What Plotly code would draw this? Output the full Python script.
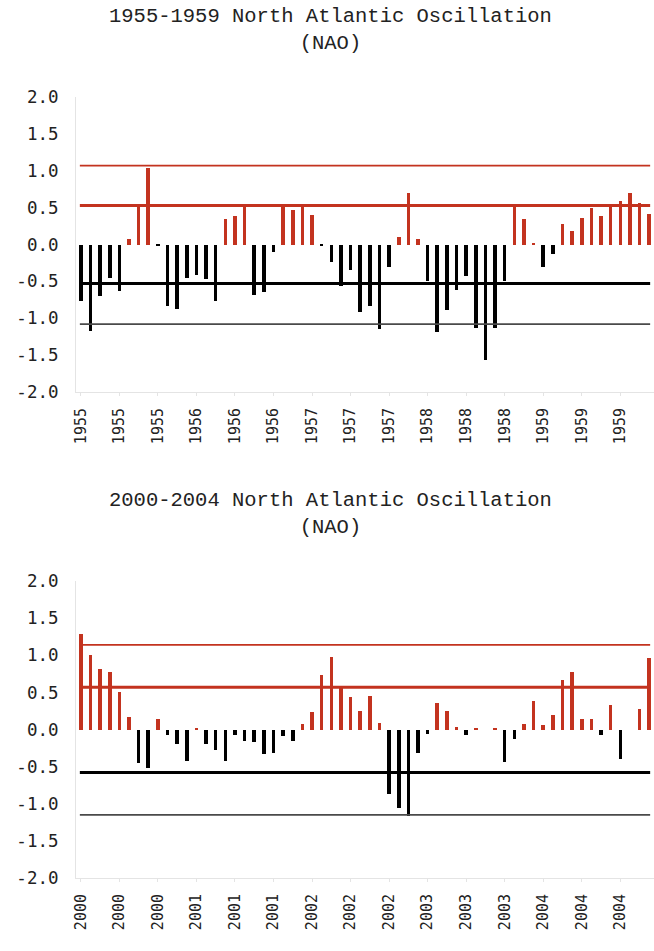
import plotly.graph_objects as go

top_title = "1955-1959 North Atlantic Oscillation<br>(NAO)"
bottom_title = "2000-2004 North Atlantic Oscillation<br>(NAO)"

top_start_year = 1955
bottom_start_year = 2000

top_vals = [-0.77, -1.17, -0.70, -0.45, -0.63, 0.08, 0.55, 1.04, -0.02, -0.83,
            -0.88, -0.46, -0.42, -0.47, -0.76, 0.35, 0.39, 0.52, -0.69, -0.64,
            -0.10, 0.52, 0.47, 0.52, 0.40, -0.02, -0.24, -0.56, -0.35, -0.91,
            -0.83, -1.14, -0.31, 0.10, 0.70, 0.08, -0.50, -1.19, -0.89, -0.62,
            -0.43, -1.13, -1.57, -1.13, -0.50, 0.55, 0.35, 0.01, -0.31, -0.13,
            0.28, 0.18, 0.36, 0.50, 0.38, 0.51, 0.59, 0.70, 0.56, 0.41]

bottom_vals = [1.29, 1.01, 0.81, 0.77, 0.50, 0.17, -0.45, -0.52, 0.14, -0.07,
               -0.20, -0.42, 0.02, -0.19, -0.28, -0.43, -0.07, -0.16, -0.17, -0.33,
               -0.32, -0.09, -0.16, 0.07, 0.23, 0.73, 0.98, 0.56, 0.44, 0.25,
               0.45, 0.09, -0.87, -1.06, -1.16, -0.32, -0.06, 0.36, 0.25, 0.03,
               -0.08, 0.01, 0.0, 0.01, -0.44, -0.13, 0.07, 0.39, 0.06, 0.19,
               0.67, 0.78, 0.14, 0.14, -0.08, 0.33, -0.40, 0.0, 0.27, 0.96]

# reference levels: [upper thin, upper thick, lower thick, lower thin]
top_levels = [1.07, 0.53, -0.53, -1.08]
bottom_levels = [1.14, 0.57, -0.58, -1.15]

y_tick_vals = [2.0, 1.5, 1.0, 0.5, 0.0, -0.5, -1.0, -1.5, -2.0]
y_tick_text = ["2.0", "1.5", "1.0", "0.5", "0.0", "-0.5", "-1.0", "-1.5", "-2.0"]

RED = "#c3331f"
BLACK = "#000000"
THIN_BLACK = "#4a4a4a"
H = 951
W = 654

fig = go.Figure()


def add_panel(vals, levels, start_year, xa, ya):
    n = len(vals)
    xs = list(range(n))
    colors = [RED if v > 0 else BLACK for v in vals]
    fig.add_trace(go.Bar(x=xs, y=vals, marker=dict(color=colors, line=dict(width=0)),
                         width=0.37, xaxis=xa, yaxis=ya, showlegend=False))
    styles = [(RED, 1.6), (RED, 3), (BLACK, 3), (THIN_BLACK, 1.6)]
    for lvl, (c, w) in zip(levels, styles):
        fig.add_trace(go.Scatter(x=[-0.1, n - 0.9], y=[lvl, lvl], mode="lines",
                                 line=dict(color=c, width=w), xaxis=xa, yaxis=ya,
                                 showlegend=False, hoverinfo="skip"))
    tv = list(range(0, n, 4))
    tt = [str(start_year + i // 12) for i in tv]
    return tv, tt


tv1, tt1 = add_panel(top_vals, top_levels, top_start_year, "x", "y")
tv2, tt2 = add_panel(bottom_vals, bottom_levels, bottom_start_year, "x2", "y2")

def px2paper(y):
    return (H - y) / H

axis_font = dict(family="DejaVu Sans Mono", size=17.5, color="#222")
xcommon = dict(range=[-0.5, 59.5], tickangle=-90, showgrid=False, zeroline=False,
               showline=True, linecolor="#e4e4e4", linewidth=1, ticks="outside",
               tickcolor="#e4e4e4", ticklen=3, tickfont=dict(family="DejaVu Sans Mono", size=15, color="#222"),
               ticklabelstandoff=6, automargin=False)
ycommon = dict(range=[-2, 2], tickvals=y_tick_vals, ticktext=y_tick_text, showgrid=False,
               zeroline=False, showline=True, linecolor="#e4e4e4", linewidth=1,
               ticks="", tickfont=axis_font, ticklabelstandoff=13, automargin=False)

fig.update_layout(
    width=W, height=H,
    margin=dict(l=76, r=0, t=0, b=0),
    paper_bgcolor="white", plot_bgcolor="white",
    bargap=0,
    xaxis=dict(domain=[0, 1], anchor="y", tickvals=tv1, ticktext=tt1, **xcommon),
    yaxis=dict(domain=[px2paper(392), px2paper(97)], anchor="x", **ycommon),
    xaxis2=dict(domain=[0, 1], anchor="y2", tickvals=tv2, ticktext=tt2, **xcommon),
    yaxis2=dict(domain=[px2paper(878), px2paper(581)], anchor="x2", **ycommon),
    annotations=[
        dict(text=top_title, xref="paper", yref="paper", x=(330 - 76) / (W - 76), y=px2paper(3),
             xanchor="center", yanchor="top", showarrow=False,
             font=dict(family="Liberation Mono", size=20.5, color="#222")),
        dict(text=bottom_title, xref="paper", yref="paper", x=(330 - 76) / (W - 76), y=px2paper(487),
             xanchor="center", yanchor="top", showarrow=False,
             font=dict(family="Liberation Mono", size=20.5, color="#222")),
    ],
)

fig.write_html("out.html")
